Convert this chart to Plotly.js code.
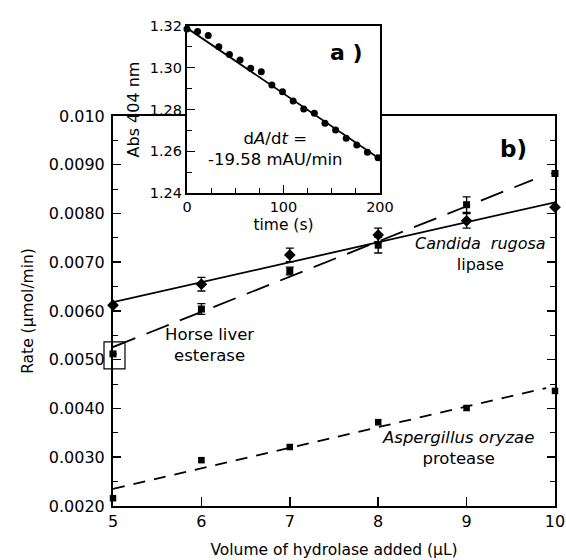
<!DOCTYPE html>
<html>
<head>
<meta charset="utf-8">
<script src="https://cdn.plot.ly/plotly-3.0.1.min.js"></script>
<style>html,body{margin:0;padding:0;background:#fff;}#chart{width:566px;height:560px;}</style>
</head>
<body>
<div id="chart"></div>
<script>
// ---- main panel b) ----
const volume = [5, 6, 7, 8, 9, 10];
const candidaRate = [0.00612, 0.00655, 0.00715, 0.00756, 0.00785, 0.00813];
const candidaErr  = [0, 0.00014, 0.00014, 0.00014, 0.00015, 0];
const horseRate   = [0.00512, 0.00604, 0.00682, 0.00735, 0.00818, 0.00882];
const horseErr    = [0, 0.00011, 0.00008, 0.00016, 0.00016, 0];
const aspRate     = [0.00216, 0.00294, 0.00321, 0.00372, 0.00401, 0.00436];
const aspErr      = [0, 0.00004, 0.00004, 0.00005, 0.00005, 0.00004];

const candidaFitX = [5, 10];
const candidaFitY = [0.00618, 0.00823];
const horseFitX = [5, 9.75];
const horseFitY = [0.00526, 0.00869];
const aspFitX = [5, 9.9];
const aspFitY = [0.00235, 0.00442];

const xRange = [5, 10];
const yRange = [0.002, 0.010];
const yTickVals = [0.002, 0.003, 0.004, 0.005, 0.006, 0.007, 0.008, 0.009, 0.010];
const yTickText = ["0.0020", "0.0030", "0.0040", "0.0050", "0.0060", "0.0070", "0.0080", "0.0090", "0.010"];

// ---- inset a) ----
const timeS = [0, 11, 22, 33, 44, 55, 66, 77, 88, 99, 110, 121, 132, 143, 154, 165, 176, 187, 198];
const absorb = [1.3186, 1.3173, 1.3154, 1.3101, 1.3064, 1.3037, 1.2997, 1.2981, 1.2917, 1.2885,
                1.2841, 1.2802, 1.2782, 1.2734, 1.2702, 1.2662, 1.2630, 1.2595, 1.2569];
const absFitX = [0, 200];
const absFitY = [1.3190, 1.2563];

const FONT = "DejaVu Sans, Verdana, sans-serif";

const traces = [
  {x: candidaFitX, y: candidaFitY, mode: 'lines', line: {color: '#000', width: 1.8}, xaxis: 'x', yaxis: 'y', hoverinfo: 'skip'},
  {x: horseFitX, y: horseFitY, mode: 'lines', line: {color: '#000', width: 1.8, dash: '24px,12px'}, xaxis: 'x', yaxis: 'y', hoverinfo: 'skip'},
  {x: aspFitX, y: aspFitY, mode: 'lines', line: {color: '#000', width: 1.8, dash: '12px,9px'}, xaxis: 'x', yaxis: 'y', hoverinfo: 'skip'},
  {x: volume, y: candidaRate, mode: 'markers', name: 'Candida rugosa lipase',
   marker: {symbol: 'diamond', size: 9, color: '#000'},
   error_y: {type: 'data', array: candidaErr, visible: true, color: '#000', thickness: 1.3, width: 4},
   cliponaxis: false, xaxis: 'x', yaxis: 'y'},
  {x: volume, y: horseRate, mode: 'markers', name: 'Horse liver esterase',
   marker: {symbol: 'square', size: 7, color: '#000'},
   error_y: {type: 'data', array: horseErr, visible: true, color: '#000', thickness: 1.3, width: 4},
   cliponaxis: false, xaxis: 'x', yaxis: 'y'},
  {x: volume, y: aspRate, mode: 'markers', name: 'Aspergillus oryzae protease',
   marker: {symbol: 'square', size: 6.5, color: '#000'},
   error_y: {type: 'data', array: aspErr, visible: true, color: '#000', thickness: 1.3, width: 3},
   cliponaxis: false, xaxis: 'x', yaxis: 'y'},
  {x: absFitX, y: absFitY, mode: 'lines', line: {color: '#000', width: 1.8}, xaxis: 'x2', yaxis: 'y2', hoverinfo: 'skip'},
  {x: timeS, y: absorb, mode: 'markers', marker: {symbol: 'circle', size: 7, color: '#000'},
   cliponaxis: false, xaxis: 'x2', yaxis: 'y2'}
];

const axLine = {showline: true, linecolor: '#000', linewidth: 2, showgrid: false, zeroline: false,
                ticks: 'inside', tickcolor: '#000', tickwidth: 1.5};

const layout = {
  width: 566, height: 560,
  margin: {l: 113, r: 11, t: 20, b: 54},
  paper_bgcolor: '#fff', plot_bgcolor: '#fff',
  showlegend: false,
  font: {family: FONT, color: '#000', size: 15.5},
  xaxis: Object.assign({}, axLine, {
    domain: [0, 1], anchor: 'y', range: xRange, dtick: 1, ticklen: 9, mirror: true,
    tickfont: {size: 16},
    title: {text: 'Volume of hydrolase added (µL)', font: {size: 15.5}, standoff: 14}
  }),
  yaxis: Object.assign({}, axLine, {
    domain: [0, 0.8025], anchor: 'x', range: yRange, tickvals: yTickVals, ticktext: yTickText,
    ticklen: 8, mirror: 'ticks', tickfont: {size: 16}, ticklabelstandoff: 3,
    minor: {dtick: 0.0005, ticks: 'inside', ticklen: 5, tickcolor: '#000', tickwidth: 1.2, showgrid: false},
    title: {text: 'Rate (µmol/min)', font: {size: 15.5}, standoff: 11}
  }),
  xaxis2: Object.assign({}, axLine, {
    domain: [0.1674, 0.604], anchor: 'y2', range: [0, 200], dtick: 100, ticklen: 8, mirror: true,
    tickfont: {size: 14.5},
    minor: {dtick: 25, ticks: 'inside', ticklen: 5, tickcolor: '#000', tickwidth: 1.2, showgrid: false},
    title: {text: 'time (s)', font: {size: 15.5}, standoff: 5}
  }),
  yaxis2: Object.assign({}, axLine, {
    domain: [0.644, 0.9877], anchor: 'x2', range: [1.24, 1.32], dtick: 0.02, tickformat: '.2f',
    ticklen: 8, mirror: true, tickfont: {size: 14.5},
    minor: {dtick: 0.01, ticks: 'inside', ticklen: 5, tickcolor: '#000', tickwidth: 1.2, showgrid: false},
    title: {text: 'Abs 404 nm', font: {size: 16}, standoff: 6}
  }),
  shapes: [
    {type: 'rect', xref: 'x domain', yref: 'y domain', xsizemode: 'pixel', ysizemode: 'pixel',
     xanchor: (volume[0] - xRange[0]) / (xRange[1] - xRange[0]),
     yanchor: (horseRate[0] - yRange[0]) / (yRange[1] - yRange[0]),
     x0: -9, x1: 12, y0: -15, y1: 12,
     line: {color: '#000', width: 1.2}, fillcolor: 'rgba(0,0,0,0)'}
  ],
  annotations: [
    {xref: 'x', yref: 'y', x: 9.536, y: 0.009323, text: '<b>b)</b>', showarrow: false, font: {size: 23}},
    {xref: 'x', yref: 'y', x: 9.152, y: 0.007169, text: '<i>Candida  rugosa</i><br>lipase', showarrow: false, font: {size: 16}},
    {xref: 'x', yref: 'y', x: 6.097, y: 0.005303, text: 'Horse liver<br>esterase', showarrow: false, font: {size: 16.5}},
    {xref: 'x', yref: 'y', x: 8.903, y: 0.00319, text: '<i>Aspergillus oryzae</i><br>protease', showarrow: false, font: {size: 16.5}},
    {xref: 'x2', yref: 'y2', x: 165.8, y: 1.3075, text: '<b>a )</b>', showarrow: false, font: {size: 22}},
    {xref: 'x2', yref: 'y2', x: 92.2, y: 1.2611, text: 'd<i>A</i>/d<i>t</i> =<br>-19.58 mAU/min', showarrow: false, font: {size: 16.5}}
  ]
};

Plotly.newPlot('chart', traces, layout, {staticPlot: true, displayModeBar: false});
</script>
</body>
</html>
